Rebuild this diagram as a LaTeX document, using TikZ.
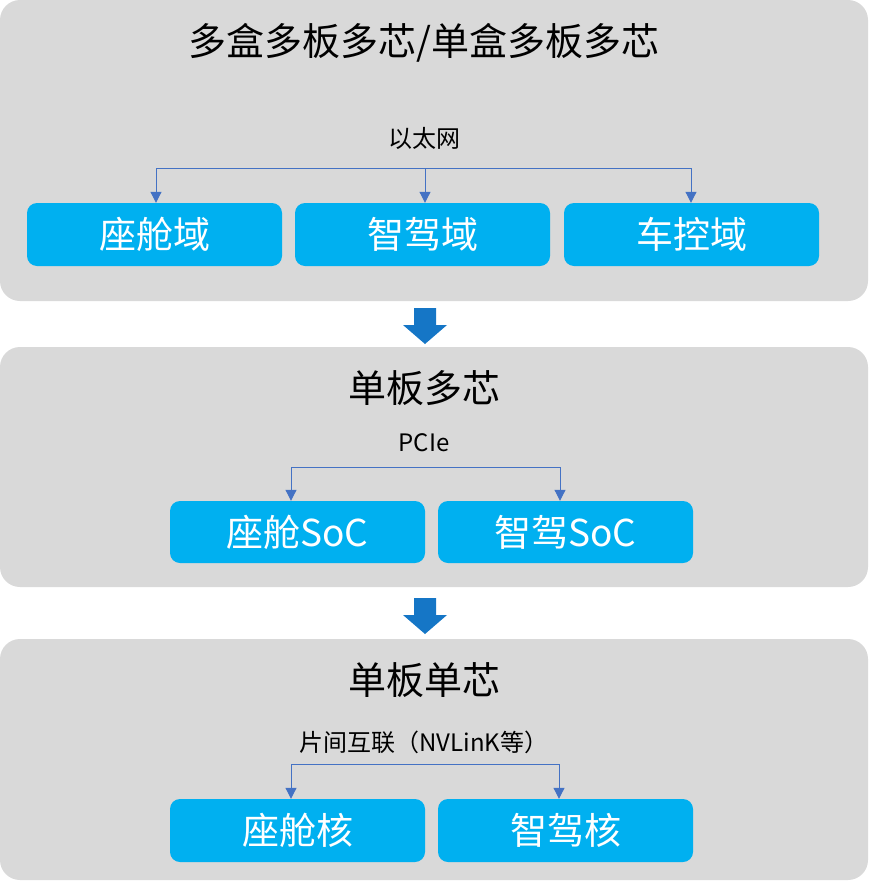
\documentclass[tikz,border=0pt]{standalone}
\usepackage{fontspec}
\setmainfont{Noto Sans CJK SC}
\usetikzlibrary{arrows.meta}
\definecolor{panelgray}{HTML}{D9D9D9}
\definecolor{boxblue}{HTML}{00B0F0}
\definecolor{connblue}{HTML}{4472C4}
\definecolor{bigarrow}{HTML}{1576C6}
\tikzset{
  panel/.style={fill=panelgray,draw=none,rounded corners=20pt,inner sep=0pt},
  boxnode/.style={fill=boxblue,draw=none,rounded corners=10pt,minimum width=255pt,inner sep=0pt,
    text=white,font=\fontsize{37}{40}\selectfont},
  titlenode/.style={inner sep=0pt,font=\fontsize{38}{42}\selectfont},
  labelnode/.style={inner sep=0pt,font=\fontsize{24}{27}\selectfont},
  conn/.style={draw=connblue,line width=1pt},
  connarrow/.style={conn,-{Triangle[width=11pt,length=11pt]}},
  flowarrow/.style={fill=bigarrow,draw=none}
}
\begin{document}
\begin{tikzpicture}[x=1pt,y=-1pt]
\useasboundingbox (0,0) rectangle (868,881);
% panels
\node[panel,minimum width=868pt,minimum height=301pt] (p1) at (434,150.5) {};
\node[panel,minimum width=868pt,minimum height=240pt] (p2) at (434,467) {};
\node[panel,minimum width=868pt,minimum height=241pt] (p3) at (434,759.5) {};
% big flow arrows
\fill[flowarrow] (414,308) -- (436,308) -- (436,325) -- (447,325) -- (425,344) -- (403,325) -- (414,325) -- cycle;
\fill[flowarrow] (414,598) -- (436,598) -- (436,615) -- (447,615) -- (425,634) -- (403,615) -- (414,615) -- cycle;
% panel 1
\node[titlenode] (t1) at (424,43) {多盒多板多芯/单盒多板多芯};
\node[labelnode] (l1) at (424,138) {以太网};
\node[boxnode,minimum height=63pt] (d1) at (154.5,234.5) {座舱域};
\node[boxnode,minimum height=63pt] (d2) at (422.5,234.5) {智驾域};
\node[boxnode,minimum height=63pt] (d3) at (691.5,234.5) {车控域};
\coordinate (e1L) at (156,168);
\coordinate (e1M) at (425,168);
\coordinate (e1R) at (691,168);
\draw[conn] (e1L) -- (e1R);
\draw[connarrow] (e1L) -- (e1L |- d1.north);
\draw[connarrow] (e1M) -- (e1M |- d2.north);
\draw[connarrow] (e1R) -- (e1R |- d3.north);
% panel 2
\node[titlenode] (t2) at (424,388) {单板多芯};
\node[labelnode] (l2) at (424,443) {PCIe};
\node[boxnode,minimum height=62pt] (s1) at (297.5,532) {座舱SoC};
\node[boxnode,minimum height=62pt] (s2) at (565.5,532) {智驾SoC};
\coordinate (e2L) at (291,467);
\coordinate (e2R) at (560,467);
\draw[conn] (e2L) -- (e2R);
\draw[connarrow] (e2L) -- (e2L |- s1.north);
\draw[connarrow] (e2R) -- (e2R |- s2.north);
% panel 3
\node[titlenode] (t3) at (424,680) {单板单芯};
\node[labelnode] (l3) at (424,742) {片间互联（NVLinK等）};
\node[boxnode,minimum height=63pt] (c1) at (297.5,830.5) {座舱核};
\node[boxnode,minimum height=63pt] (c2) at (565.5,830.5) {智驾核};
\coordinate (e3L) at (291,764);
\coordinate (e3R) at (559,764);
\draw[conn] (e3L) -- (e3R);
\draw[connarrow] (e3L) -- (e3L |- c1.north);
\draw[connarrow] (e3R) -- (e3R |- c2.north);
\end{tikzpicture}
\end{document}
